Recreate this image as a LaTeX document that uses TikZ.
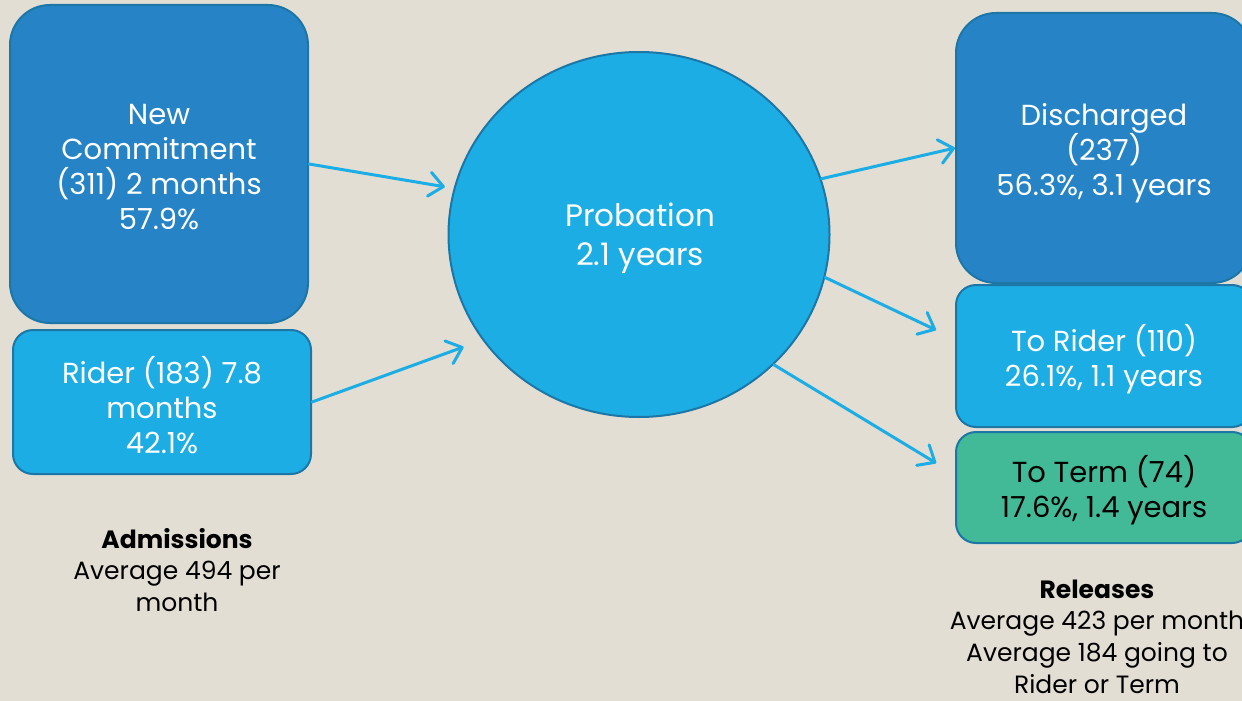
\documentclass[tikz,border=0pt]{standalone}
\usepackage{fontspec}
\setmainfont{Poppins}
\usetikzlibrary{shapes.geometric,arrows.meta}
\definecolor{bgc}{HTML}{E3DED4}
\definecolor{darkb}{HTML}{2683C6}
\definecolor{lightb}{HTML}{1CADE4}
\definecolor{greenb}{HTML}{42BA97}
\definecolor{edgeb}{HTML}{1C77A6}
\definecolor{arrc}{HTML}{1CADE4}
\tikzset{
  boxbase/.style={draw=edgeb, line width=2pt, inner sep=0pt},
  bigbox/.style={boxbase, rounded corners=40pt},
  smallbox/.style={boxbase, rounded corners=20pt},
  boxtext/.style={align=center, inner sep=0pt, font=\fontsize{29}{35}\selectfont},
  caption/.style={align=center, text=black, font=\fontsize{25}{31.7}\selectfont},
  arr/.style={draw=arrc, line width=3pt, line cap=round,
    -{Straight Barb[length=14pt,width=24pt,line width=3pt,round]}},
}
\begin{document}
\begin{tikzpicture}[x=1pt,y=-1pt]
\fill[bgc] (0,0) rectangle (1242,701);
\useasboundingbox (0,0) rectangle (1242,701);

\node[bigbox, fill=darkb, minimum width=298pt, minimum height=318pt] (nc) at (159,164) {};
\node[boxtext, text=white] (nct) at (159,167) {New\\Commitment\\(311) 2 months\\57.9\%};

\node[smallbox, fill=lightb, minimum width=298pt, minimum height=144pt] (rid) at (162,402) {};
\node[boxtext, text=white] (ridt) at (162,405) {Rider (183) 7.8\\months\\42.1\%};

\node[ellipse, draw=edgeb, line width=2pt, fill=lightb, inner sep=0pt,
  minimum width=381pt, minimum height=365pt] (prob) at (639,234.5) {};
\node[boxtext, text=white, font=\fontsize{31}{39}\selectfont] (probt) at (640,238) {Probation\\2.1 years};

\node[bigbox, fill=darkb, minimum width=296pt, minimum height=270pt] (dis) at (1104,148) {};
\node[boxtext, text=white] (dist) at (1104,153) {Discharged\\(237)\\56.3\%, 3.1 years};

\node[smallbox, fill=lightb, minimum width=296pt, minimum height=142pt] (tor) at (1104,356) {};
\node[boxtext, text=white] (tort) at (1104,359) {To Rider (110)\\26.1\%, 1.1 years};

\node[smallbox, fill=greenb, minimum width=296pt, minimum height=111pt] (tot) at (1104,487.5) {};
\node[boxtext, text=black] (tott) at (1104,490) {To Term (74)\\17.6\%, 1.4 years};

\node[caption] (adm) at (177,570) {\textbf{Admissions}\\Average 494 per\\month};
\node[caption] (rel) at (1097,636.5) {\textbf{Releases}\\Average 423 per month\\Average 184 going to\\Rider or Term};

\draw[arr, shorten >=9pt] (nc.east) -- (prob.166);
\draw[arr, shorten >=20pt] (rid.east) -- (prob.214);
\draw[arr] (prob.17) -- (dis.west);
\draw[arr, shorten >=21pt] (prob.-13) -- ([yshift=17pt]tor.west);
\draw[arr, shorten >=22pt] (prob.-44) -- ([yshift=13pt]tot.west);
\end{tikzpicture}
\end{document}
